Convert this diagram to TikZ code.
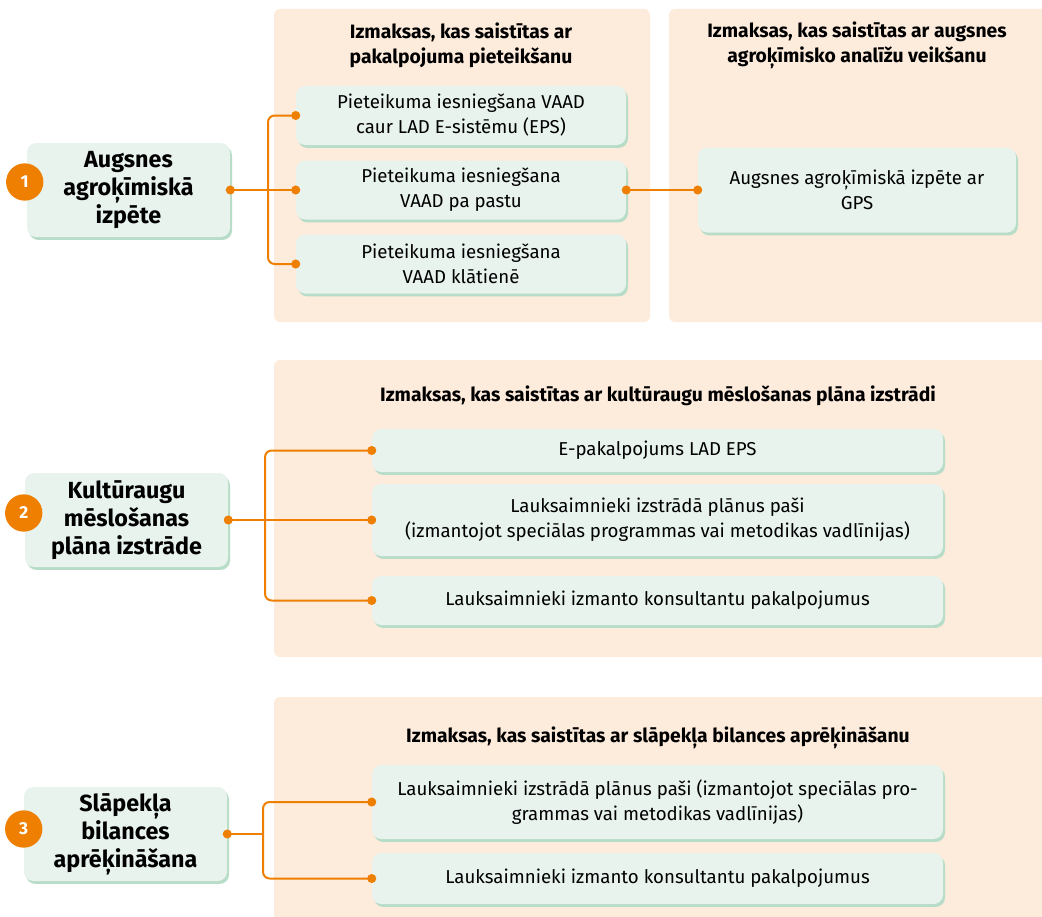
\documentclass[tikz,border=0pt]{standalone}
\usepackage{fontspec}
\setmainfont{Fira Sans}
\usepackage{xcolor}
\usepackage{tikz}
\usetikzlibrary{arrows.meta,positioning,calc,shadows}
\definecolor{orangex}{HTML}{EE7F00}
\definecolor{panelbg}{HTML}{FDEBDC}
\definecolor{mintbox}{HTML}{E8F3EE}
\definecolor{mintshadow}{HTML}{B7DCC7}

\begin{document}
\begin{tikzpicture}[x=0.75pt, y=-0.75pt,
  stepbox/.style={rectangle, rounded corners=7pt, fill=mintbox, align=center, inner sep=2pt,
    font=\fontsize{14}{18.75}\selectfont,
    drop shadow={shadow xshift=1.5pt, shadow yshift=-2.2pt, fill=mintshadow, opacity=1}},
  topicbox/.style={stepbox, font=\fontsize{17.5}{21}\selectfont\bfseries,
    minimum width=152.25pt, minimum height=70.5pt},
  headline/.style={font=\fontsize{14.5}{18.75}\selectfont\bfseries, align=center},
  numdot/.style={circle, fill=orangex, text=white, font=\fontsize{13}{14}\selectfont\bfseries,
    minimum size=28pt, inner sep=0pt},
  link/.style={orangex, line width=1.5pt, rounded corners=5pt}]
\useasboundingbox (0,0) rectangle (1042,917);
% cost panels
\fill[panelbg, rounded corners=4.5pt] (274,9) rectangle (650,322);
\fill[panelbg, rounded corners=4.5pt] (669,9) rectangle (1060,322);
\fill[panelbg, rounded corners=4.5pt] (274,360) rectangle (1060,657);
\fill[panelbg, rounded corners=4.5pt] (274,697) rectangle (1060,940);
\node[headline] (h1) at (461,45.5) {Izmaksas, kas saistītas ar\\pakalpojuma pieteikšanu};
\node[headline] (h2) at (857,45.5) {Izmaksas, kas saistītas ar augsnes\\agroķīmisko analīžu veikšanu};
\node[headline] (h3) at (658,396) {Izmaksas, kas saistītas ar kultūraugu mēslošanas plāna izstrādi};
\node[headline] (h4) at (658,738) {Izmaksas, kas saistītas ar slāpekļa bilances aprēķināšanu};
% 1: soil survey
\node[topicbox] (L1) at (128.5,190) {Augsnes\\agroķīmiskā\\izpēte};
\node[stepbox, minimum width=247.5pt, minimum height=44.25pt] (a1) at (461,115.5) {Pieteikuma iesniegšana VAAD\\caur LAD E-sistēmu (EPS)};
\node[stepbox, minimum width=247.5pt, minimum height=44.25pt] (a2) at (461,190) {Pieteikuma iesniegšana\\VAAD pa pastu};
\node[stepbox, minimum width=247.5pt, minimum height=44.25pt] (a3) at (461,264) {Pieteikuma iesniegšana\\VAAD klātienē};
\node[stepbox, minimum width=238.5pt, minimum height=63.75pt] (b1) at (857,190) {Augsnes agroķīmiskā izpēte ar\\GPS};
\coordinate (j1) at (268,190);
\draw[link] (L1.east) -- (j1) -- (a2.west);
\draw[link] (j1) |- (a1.west);
\draw[link] (j1) |- (a3.west);
\draw[link] (a2.east) -- (b1.west);
% 2: fertilisation plan
\node[topicbox] (L2) at (126.5,520) {Kultūraugu\\mēslošanas\\plāna izstrāde};
\node[stepbox, minimum width=428.25pt, minimum height=32.25pt] (c1) at (657.5,450.5) {E-pakalpojums LAD EPS};
\node[stepbox, minimum width=428.25pt, minimum height=54pt] (c2) at (657.5,520) {Lauksaimnieki izstrādā plānus paši\\(izmantojot speciālas programmas vai metodikas vadlīnijas)};
\node[stepbox, minimum width=428.25pt, minimum height=36.75pt] (c3) at (657.5,600.5) {Lauksaimnieki izmanto konsultantu pakalpojumus};
\coordinate (j2) at (265,520);
\draw[link] (L2.east) -- (j2) -- (c2.west);
\draw[link] (j2) |- (c1.west);
\draw[link] (j2) |- (c3.west);
% 3: nitrogen balance
\node[topicbox] (L3) at (125.5,834) {Slāpekļa\\bilances\\aprēķināšana};
\node[stepbox, minimum width=428.25pt, minimum height=55.5pt] (d1) at (657.5,802) {Lauksaimnieki izstrādā plānus paši (izmantojot speciālas pro-\\grammas vai metodikas vadlīnijas)};
\node[stepbox, minimum width=428.25pt, minimum height=38.25pt] (d2) at (657.5,878.5) {Lauksaimnieki izmanto konsultantu pakalpojumus};
\coordinate (j3) at (263,834);
\draw[link] (L3.east) -- (j3);
\draw[link] (j3) |- (d1.west);
\draw[link] (j3) |- (d2.west);
% end dots
\foreach \p in {L1.east,a1.west,a2.west,a3.west,a2.east,b1.west,L2.east,c1.west,c2.west,c3.west,L3.east,d1.west,d2.west}
  \fill[orangex] (\p) circle (3.4pt);
% numbers
\node[numdot] (n1) at ($(L1.west)+(-2,-8)$) {1};
\node[numdot] (n2) at ($(L2.west)+(-1,-7)$) {2};
\node[numdot] (n3) at ($(L3.west)+(0,-5)$) {3};
\end{tikzpicture}
\end{document}
